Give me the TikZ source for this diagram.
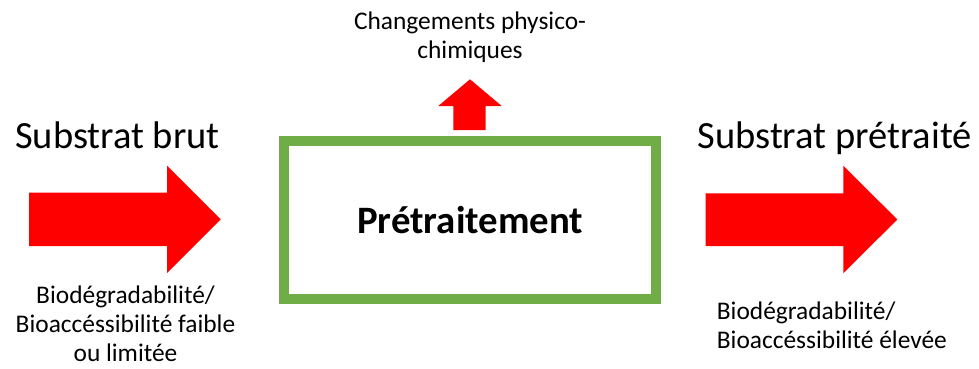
\documentclass[tikz,border=0pt]{standalone}
\usepackage{fontspec}
\setmainfont{Carlito}
\definecolor{arrowred}{HTML}{FF0000}
\definecolor{boxgreen}{HTML}{70AD47}
\begin{document}
\begin{tikzpicture}[x=1pt,y=-1pt,
  bigtext/.style={inner sep=0pt,font=\fontsize{38.5}{44}\selectfont},
  smalltext/.style={inner sep=0pt,font=\fontsize{25.4}{29}\selectfont},
  blockarrow/.style={fill=arrowred,draw=none},
  processbox/.style={draw=boxgreen,line width=10pt,fill=white,minimum width=371.7pt,minimum height=157.7pt,inner sep=0pt,font=\bfseries\fontsize{38.8}{44}\selectfont}]
\useasboundingbox (0,0) rectangle (979,369);
% block arrows
\fill[blockarrow] (29,192.7) -- (167,192.7) -- (167,165.7) -- (220.7,219.3) -- (167,273) -- (167,246) -- (29,246) -- cycle;
\fill[blockarrow] (705.7,193.3) -- (843.3,193.3) -- (843.3,165.7) -- (897.3,219.5) -- (843.3,273.3) -- (843.3,246) -- (705.7,246) -- cycle;
\fill[blockarrow] (453.3,130) -- (453.3,106) -- (438.3,106) -- (470,79.3) -- (501.7,106) -- (485.7,106) -- (485.7,130) -- cycle;
% box
\node[processbox] (box) at (470.2,219.8) {Prétraitement};
% texts
\node[bigtext,anchor=base west] (raw) at (15,148.3) {Substrat brut};
\node[bigtext,anchor=base west] (treated) at (697.3,148.3) {Substrat prétraité};
\node[smalltext,align=center,anchor=base] (change) at (470,58.3) {Changements physico-\\chimiques};
\node[smalltext,align=center,anchor=base] (rawprop) at (125.5,361.7) {Biodégradabilité/\\Bioaccéssibilité faible\\ou limitée};
\node[smalltext,align=left,anchor=base west] (treatedprop) at (716.7,348.3) {Biodégradabilité/\\Bioaccéssibilité élevée};
\end{tikzpicture}
\end{document}
